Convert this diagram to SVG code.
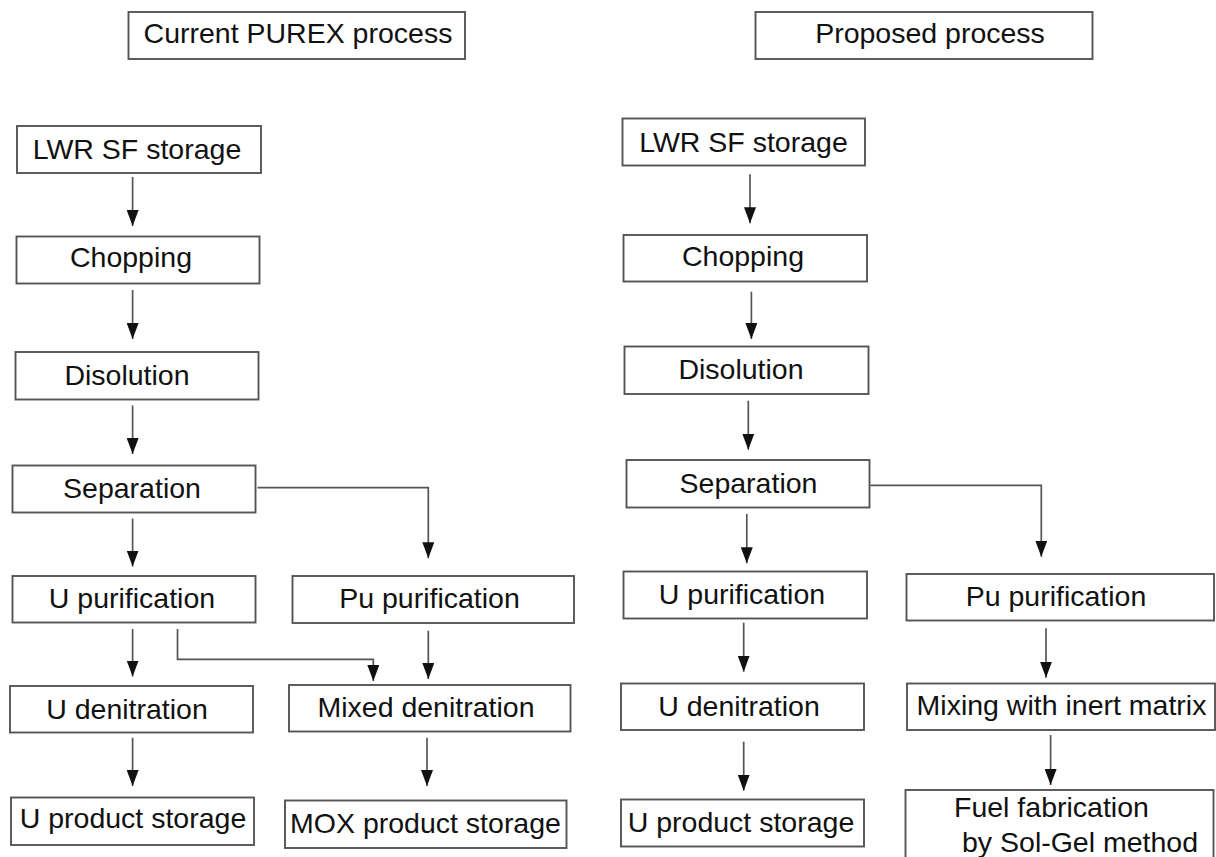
<svg xmlns="http://www.w3.org/2000/svg" width="1216" height="857" viewBox="0 0 1216 857">
<style>
.box{fill:#fff;stroke:#555;stroke-width:1.9}
.t{font-family:"Liberation Sans",Arial,sans-serif;font-size:28.5px;fill:#111;text-anchor:middle}
.ts{font-family:"Liberation Sans",Arial,sans-serif;font-size:28.5px;fill:#111}
.c{fill:none;stroke:#555;stroke-width:1.7;marker-end:url(#ah)}
</style>
<defs>
<marker id="ah" viewBox="0 0 16 12" refX="16" refY="6" markerWidth="16" markerHeight="12" markerUnits="userSpaceOnUse" orient="auto">
<path d="M0,0 L16,6 L0,12 z" fill="#111"/>
</marker>
</defs>
<rect width="1216" height="857" fill="#fff"/>
<g id="title-left"><rect class="box" x="128.5" y="12" width="336.5" height="47"/><text class="t" x="298" y="43">Current PUREX process</text></g>
<g id="title-right"><rect class="box" x="755.5" y="12" width="337" height="47"/><text class="t" x="930" y="43">Proposed process</text></g>

<g id="l-lwr"><rect class="box" x="17" y="126" width="244" height="47"/><text class="t" x="137" y="159">LWR SF storage</text></g>
<g id="l-chop"><rect class="box" x="16.5" y="236.5" width="243" height="47"/><text class="t" x="131" y="266.5">Chopping</text></g>
<g id="l-dis"><rect class="box" x="15.5" y="352" width="243" height="47.5"/><text class="t" x="127" y="385">Disolution</text></g>
<g id="l-sep"><rect class="box" x="12.5" y="465.5" width="243" height="47"/><text class="t" x="132" y="497.5">Separation</text></g>
<g id="l-upur"><rect class="box" x="12.5" y="576" width="243" height="46.5"/><text class="t" x="132" y="607.5">U purification</text></g>
<g id="l-pupur"><rect class="box" x="292.5" y="576" width="281.5" height="47"/><text class="t" x="429.5" y="607.5">Pu purification</text></g>
<g id="l-uden"><rect class="box" x="10" y="686" width="243" height="46.5"/><text class="t" x="127" y="719">U denitration</text></g>
<g id="l-mixden"><rect class="box" x="289" y="685" width="281.5" height="46.5"/><text class="t" x="426" y="716.5">Mixed denitration</text></g>
<g id="l-ustor"><rect class="box" x="11" y="797.5" width="243" height="47.5"/><text class="t" x="133" y="827.5">U product storage</text></g>
<g id="l-moxstor"><rect class="box" x="285" y="800.5" width="281.5" height="47.5"/><text class="t" x="425.5" y="832.5">MOX product storage</text></g>

<g id="r-lwr"><rect class="box" x="622.5" y="118.5" width="242.5" height="47"/><text class="t" x="743.5" y="151.5">LWR SF storage</text></g>
<g id="r-chop"><rect class="box" x="623.5" y="235" width="243.5" height="46.5"/><text class="t" x="743" y="265.5">Chopping</text></g>
<g id="r-dis"><rect class="box" x="624.5" y="346.5" width="244" height="47.5"/><text class="t" x="741" y="379">Disolution</text></g>
<g id="r-sep"><rect class="box" x="626.5" y="460" width="243" height="47.5"/><text class="t" x="748.5" y="492.5">Separation</text></g>
<g id="r-upur"><rect class="box" x="623.5" y="571.5" width="243.5" height="47"/><text class="t" x="742" y="603.5">U purification</text></g>
<g id="r-pupur"><rect class="box" x="906.5" y="574" width="307.5" height="46.5"/><text class="t" x="1056" y="605.5">Pu purification</text></g>
<g id="r-uden"><rect class="box" x="621" y="683.5" width="243" height="46.5"/><text class="t" x="739" y="715.5">U denitration</text></g>
<g id="r-mix"><rect class="box" x="907" y="683.5" width="308" height="46.5"/><text class="t" x="1061.5" y="714.5">Mixing with inert matrix</text></g>
<g id="r-ustor"><rect class="box" x="621" y="799.5" width="243" height="47"/><text class="t" x="741" y="831.5">U product storage</text></g>
<g id="r-fuel"><rect class="box" x="905.5" y="790" width="308" height="90"/><text class="ts" x="954" y="816.5">Fuel fabrication</text><text class="ts" x="962" y="852">by Sol-Gel method</text></g>

<g id="connectors">
<path class="c" d="M132.6,177 V226"/>
<path class="c" d="M132.6,290 V339"/>
<path class="c" d="M132.6,405.5 V454"/>
<path class="c" d="M132.6,518.5 V566.5"/>
<path class="c" d="M257.5,487.7 H428.3 V558.3"/>
<path class="c" d="M132.6,629 V676.5"/>
<path class="c" d="M177.5,629 V659.3 H373.3 V681"/>
<path class="c" d="M428.3,630.7 V679"/>
<path class="c" d="M132.6,737.7 V786"/>
<path class="c" d="M427,737.7 V786"/>

<path class="c" d="M750,174.3 V223.3"/>
<path class="c" d="M751.4,291.7 V339"/>
<path class="c" d="M748.3,400.7 V449.7"/>
<path class="c" d="M746.8,514 V563.3"/>
<path class="c" d="M870.4,485.3 H1041.3 V556.7"/>
<path class="c" d="M743.7,622.7 V671.7"/>
<path class="c" d="M1046,628.3 V677.7"/>
<path class="c" d="M743.7,741.7 V790.7"/>
<path class="c" d="M1050.6,735 V785"/>
</g>
</svg>
